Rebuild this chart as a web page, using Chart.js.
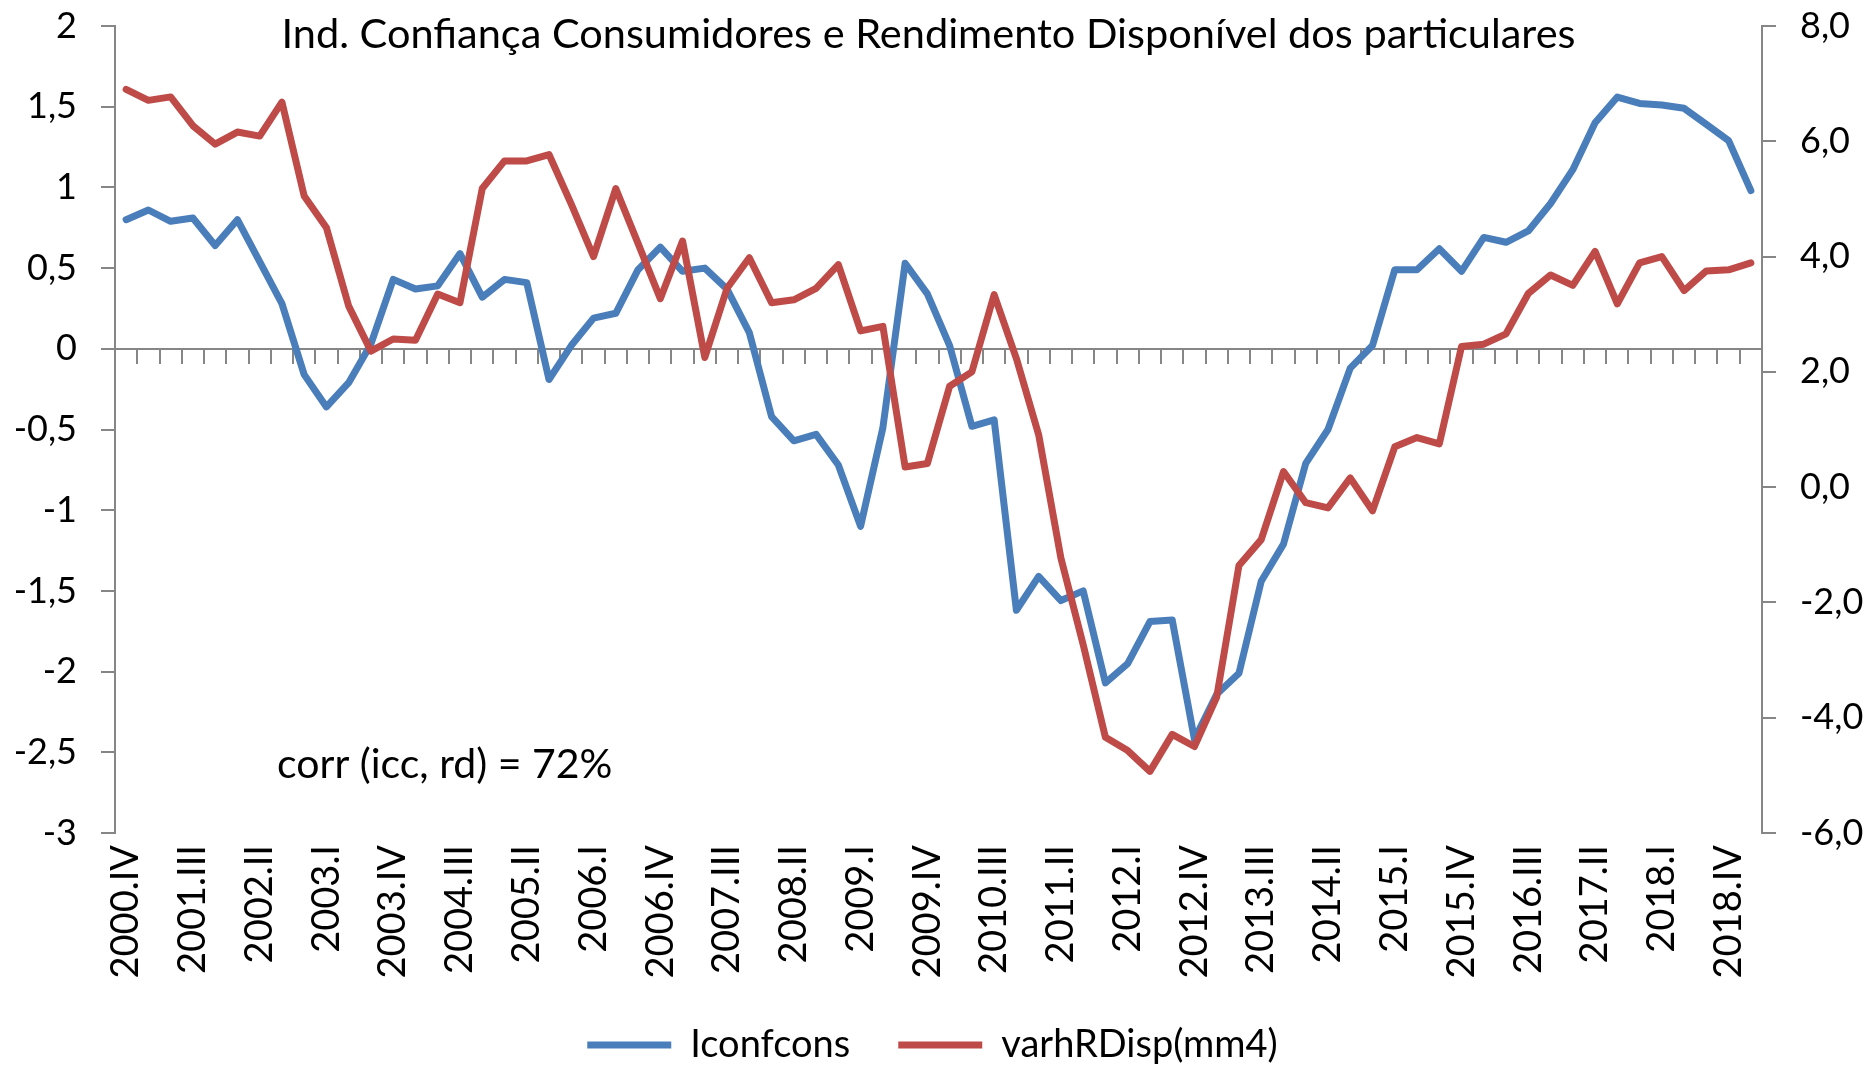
<!DOCTYPE html>
<html lang="pt">
<head>
<meta charset="utf-8">
<title>Ind. Confiança Consumidores e Rendimento Disponível dos particulares</title>
<script src="https://cdn.jsdelivr.net/npm/chart.js@4.4.1/dist/chart.umd.min.js"></script>
<style>
  html, body { margin: 0; padding: 0; background: #fff; }
  #chart { display: block; }
</style>
</head>
<body>
<canvas id="chart" width="1865" height="1074"></canvas>
<script>
/* global Chart */

// Quarters, 2000.IV .. 2019.I (only every 3rd one gets a label on the axis).
const QUARTERS = [
  '2000.IV',
  '2001.I', '2001.II', '2001.III', '2001.IV',
  '2002.I', '2002.II', '2002.III', '2002.IV',
  '2003.I', '2003.II', '2003.III', '2003.IV',
  '2004.I', '2004.II', '2004.III', '2004.IV',
  '2005.I', '2005.II', '2005.III', '2005.IV',
  '2006.I', '2006.II', '2006.III', '2006.IV',
  '2007.I', '2007.II', '2007.III', '2007.IV',
  '2008.I', '2008.II', '2008.III', '2008.IV',
  '2009.I', '2009.II', '2009.III', '2009.IV',
  '2010.I', '2010.II', '2010.III', '2010.IV',
  '2011.I', '2011.II', '2011.III', '2011.IV',
  '2012.I', '2012.II', '2012.III', '2012.IV',
  '2013.I', '2013.II', '2013.III', '2013.IV',
  '2014.I', '2014.II', '2014.III', '2014.IV',
  '2015.I', '2015.II', '2015.III', '2015.IV',
  '2016.I', '2016.II', '2016.III', '2016.IV',
  '2017.I', '2017.II', '2017.III', '2017.IV',
  '2018.I', '2018.II', '2018.III', '2018.IV',
  '2019.I',
];
const LABEL_EVERY = 3;

// Consumer confidence indicator (left axis).
const ICONFCONS = [
  0.80,
  0.86, 0.79, 0.81, 0.64,
  0.80, 0.54, 0.28, -0.16,
  -0.36, -0.21, 0.03, 0.43,
  0.37, 0.39, 0.59, 0.32,
  0.43, 0.41, -0.19, 0.02,
  0.19, 0.22, 0.49, 0.63,
  0.48, 0.50, 0.37, 0.10,
  -0.42, -0.57, -0.53, -0.72,
  -1.10, -0.49, 0.53, 0.34,
  0.02, -0.48, -0.44, -1.62,
  -1.41, -1.56, -1.50, -2.07,
  -1.95, -1.69, -1.68, -2.42,
  -2.14, -2.01, -1.44, -1.21,
  -0.71, -0.50, -0.12, 0.02,
  0.49, 0.49, 0.62, 0.48,
  0.69, 0.66, 0.73, 0.90,
  1.11, 1.40, 1.56, 1.52,
  1.51, 1.49, 1.39, 1.29,
  0.98,
];

// Disposable income, y/y change of 4-quarter moving average (right axis).
const VARH_RDISP = [
  6.90,
  6.71, 6.77, 6.27, 5.95,
  6.16, 6.09, 6.68, 5.05,
  4.50, 3.14, 2.36, 2.57,
  2.55, 3.35, 3.20, 5.18,
  5.66, 5.66, 5.77, 4.91,
  4.00, 5.18, 4.23, 3.27,
  4.27, 2.25, 3.45, 3.98,
  3.20, 3.25, 3.45, 3.86,
  2.71, 2.79, 0.35, 0.41,
  1.75, 2.00, 3.34, 2.23,
  0.91, -1.23, -2.73, -4.34,
  -4.57, -4.93, -4.29, -4.50,
  -3.64, -1.36, -0.91, 0.27,
  -0.27, -0.36, 0.16, -0.41,
  0.70, 0.86, 0.75, 2.44,
  2.48, 2.66, 3.36, 3.68,
  3.50, 4.09, 3.18, 3.89,
  4.00, 3.41, 3.75, 3.77,
  3.89,
];

const TITLE = 'Ind. Confiança Consumidores e Rendimento Disponível dos particulares';
const CORR_NOTE = 'corr (icc, rd) = 72%';

const BLUE = '#4A7EBB';
const RED = '#BE4B48';
const AXIS_COLOR = '#868686';
const TEXT_COLOR = '#000000';
const FONT = 'Lato';

// decimal comma, as in the original
const commaLeft = (v) => String(v).replace('.', ',');
const commaRight = (v) => Number(v).toFixed(1).replace('.', ',');

// Title sits inside the plot top and the note sits lower left, so both are drawn by hand.
const chartTexts = {
  id: 'chartTexts',
  afterDraw(chart) {
    const { ctx, chartArea } = chart;
    ctx.save();
    ctx.fillStyle = TEXT_COLOR;
    ctx.textBaseline = 'alphabetic';
    ctx.font = `41.5px ${FONT}`;
    ctx.textAlign = 'center';
    ctx.fillText(TITLE, chart.width / 2 - 4, chartArea.top + 22);
    ctx.font = `41px ${FONT}`;
    ctx.textAlign = 'left';
    ctx.fillText(CORR_NOTE, chartArea.left + 162, chartArea.bottom - 55);
    ctx.restore();
  },
};

const axisGrid = { drawOnChartArea: false, color: AXIS_COLOR, lineWidth: 2, tickLength: 14 };
const axisBorder = { color: AXIS_COLOR, width: 2 };

// fixed axis width; tick labels may overhang the plot top/bottom
const fixWidth = (width) => (scale) => {
  scale.width = width;
  scale.paddingTop = 0;
  scale.paddingBottom = 0;
};

const draw = () => {
  new Chart(document.getElementById('chart'), {
    type: 'line',
    data: {
      labels: QUARTERS,
      datasets: [
        {
          label: 'Iconfcons',
          data: ICONFCONS,
          xAxisID: 'x',
          yAxisID: 'y',
          borderColor: BLUE,
          backgroundColor: BLUE,
          borderWidth: 7,
          borderJoinStyle: 'round',
          borderCapStyle: 'round',
          pointRadius: 0,
          tension: 0,
          order: 2,
        },
        {
          label: 'varhRDisp(mm4)',
          data: VARH_RDISP,
          xAxisID: 'x',
          yAxisID: 'y1',
          borderColor: RED,
          backgroundColor: RED,
          borderWidth: 7,
          borderJoinStyle: 'round',
          borderCapStyle: 'round',
          pointRadius: 0,
          tension: 0,
          order: 1, // red is drawn over blue
        },
      ],
    },
    options: {
      responsive: false,
      animation: false,
      events: [],
      layout: { padding: { top: 26, right: 0, bottom: 0, left: 0 } },
      plugins: {
        title: { display: false },
        tooltip: { enabled: false },
        legend: {
          position: 'bottom',
          labels: {
            usePointStyle: true,
            pointStyle: 'line',
            pointStyleWidth: 84,
            padding: 48,
            color: TEXT_COLOR,
            font: { family: FONT, size: 38 },
            sort: (a, b) => a.datasetIndex - b.datasetIndex,
          },
        },
      },
      scales: {
        // labels along the bottom, no axis line
        x: {
          type: 'category',
          position: 'bottom',
          offset: true,
          grid: { display: false, drawTicks: false },
          border: { display: false },
          ticks: {
            autoSkip: false,
            minRotation: 90,
            maxRotation: 90,
            padding: 12,
            color: TEXT_COLOR,
            font: { family: FONT, size: 38 },
            callback: (value, index) => (index % LABEL_EVERY === 0 ? QUARTERS[index] : ''),
          },
          afterFit: (scale) => {
            scale.height = 145;
            // long labels run a little into the legend band: don't clip them
            scale._computeLabelArea = () => undefined;
          },
        },
        // axis line with tick marks, crossing the left axis at 0
        x2: {
          type: 'category',
          position: { y: 0 },
          offset: true,
          grid: { ...axisGrid, offset: true },
          border: axisBorder,
          ticks: { display: false },
        },
        y: {
          position: 'left',
          min: -3,
          max: 2,
          grid: axisGrid,
          border: axisBorder,
          ticks: {
            stepSize: 0.5,
            padding: 24,
            color: TEXT_COLOR,
            font: { family: FONT, size: 36 },
            callback: commaLeft,
          },
          afterFit: fixWidth(115),
        },
        y1: {
          position: 'right',
          min: -6,
          max: 8,
          grid: axisGrid,
          border: axisBorder,
          ticks: {
            stepSize: 2,
            padding: 24,
            color: TEXT_COLOR,
            font: { family: FONT, size: 36 },
            callback: commaRight,
          },
          afterFit: fixWidth(103),
        },
      },
    },
    plugins: [chartTexts],
  });
};

document.fonts.load(`38px ${FONT}`).then(draw, draw);
</script>
</body>
</html>
